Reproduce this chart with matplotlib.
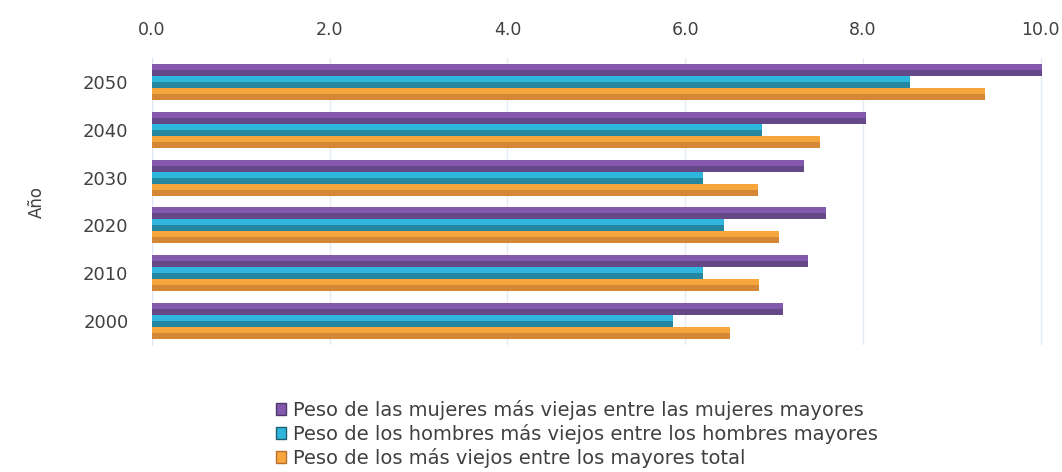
import numpy as np
import matplotlib
matplotlib.use("Agg")
import matplotlib.pyplot as plt
from matplotlib.patches import Patch

plt.rcParams['font.family'] = ['DejaVu Sans']

years = ['2000', '2010', '2020', '2030', '2040', '2050']
mujeres = [7.10, 7.38, 7.59, 7.34, 8.03, 10.02]
hombres = [5.86, 6.20, 6.44, 6.20, 6.87, 8.53]
total = [6.50, 6.83, 7.06, 6.82, 7.52, 9.38]

series = [
    ('Peso de las mujeres más viejas entre las mujeres mayores', mujeres, '#8459ad', '#4d3a68'),
    ('Peso de los hombres más viejos entre los hombres mayores', hombres, '#2fb6dc', '#1d5f70'),
    ('Peso de los más viejos entre los mayores total', total, '#f7a63e', '#b8702e'),
]

fig = plt.figure(figsize=(10.62, 4.72), dpi=100)
ax = fig.add_axes([152 / 1062, 1 - 345 / 472, 893 / 1062, 287 / 472])

y = np.arange(len(years))
h = 0.25
offsets = [h, 0, -h]

for (name, vals, c1, c2), off in zip(series, offsets):
    ax.barh(y + off, vals, height=h, color=c1, edgecolor='none', zorder=3)
    # darker lower half for the cylinder look
    ax.barh(y + off - h / 4, vals, height=h / 2, color=c2, alpha=0.55,
            edgecolor='none', zorder=4)

ax.set_xlim(0, 10.05)
ax.set_ylim(-0.5, 5.5)
ax.set_xticks(np.arange(0, 10.1, 2))
ax.set_xticklabels([f'{v:.1f}' for v in np.arange(0, 10.1, 2)])
ax.xaxis.tick_top()
ax.set_yticks(y)
ax.set_yticklabels(years)
ax.tick_params(length=0, labelsize=13, colors='#404040', pad=17)
ax.tick_params(axis='x', pad=14, labelsize=12.5)
ax.grid(axis='x', color='#e3ebf5', linewidth=1, zorder=0)
for s in ['top', 'right', 'bottom']:
    ax.spines[s].set_visible(False)
ax.spines['left'].set_color('#dce6f2')
ax.set_ylabel('Año', fontsize=12, color='#404040', labelpad=27)

handles = [Patch(facecolor=c1, edgecolor=c2, label=name) for name, _, c1, c2 in series]
fig.legend(handles=handles, loc='upper left', bbox_to_anchor=(262 / 1062, 1 - 386 / 472),
           frameon=False, fontsize=14, handlelength=0.55, handleheight=0.55,
           handletextpad=0.35, labelspacing=0.22, borderpad=0.2, labelcolor='#404040')

fig.savefig('out.png', dpi=100)
